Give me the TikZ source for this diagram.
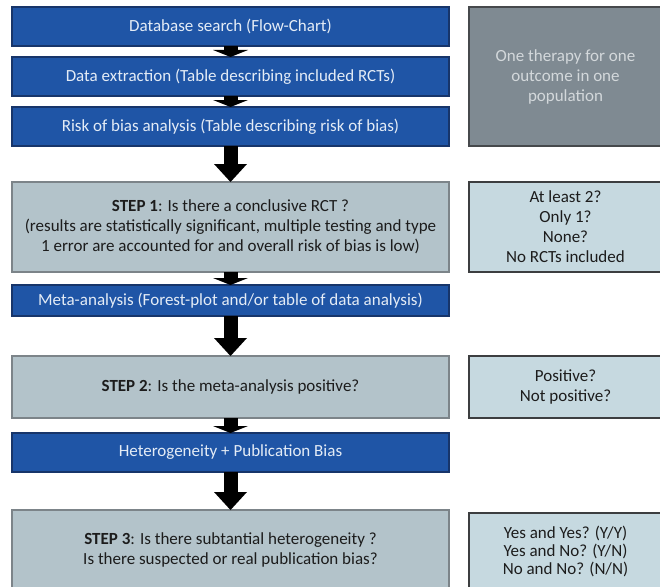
\documentclass[tikz,border=0pt]{standalone}
\usepackage{fontspec}
\setmainfont{Carlito}
\usetikzlibrary{arrows.meta}

\definecolor{stepblue}{HTML}{1F55A6}
\definecolor{stepblueedge}{HTML}{17356A}
\definecolor{stepfill}{HTML}{B3C3CA}
\definecolor{stepedge}{HTML}{7C8489}
\definecolor{answerfill}{HTML}{C6D9E0}
\definecolor{answeredge}{HTML}{3C3E40}
\definecolor{scopefill}{HTML}{7F8A92}
\definecolor{scopeedge}{HTML}{46494C}
\definecolor{scopetext}{HTML}{D3D8DB}
\definecolor{bluetext}{HTML}{E4ECF6}
\definecolor{darktext}{HTML}{1C1C1C}

\tikzset{
  boxbase/.style={rectangle, inner sep=0pt, outer sep=0pt, align=center,
    line width=1.3pt, font=\fontsize{17}{20}\selectfont},
  bluebox/.style={boxbase, fill=stepblue, draw=stepblueedge, text=bluetext,
    minimum width=437pt},
  stepbox/.style={boxbase, fill=stepfill, draw=stepedge, text=darktext,
    minimum width=437pt},
  answerbox/.style={boxbase, fill=answerfill, draw=answeredge, text=darktext,
    minimum width=193pt},
  scopebox/.style={boxbase, fill=scopefill, draw=scopeedge, text=scopetext,
    minimum width=193pt},
  bigarrow/.style={draw=black, line width=14pt,
    -{Triangle[length=18pt, width=33pt, line width=0pt]}},
  smallarrow/.style={draw=black, line width=14pt,
    -{Triangle[length=7pt, width=35pt, line width=0pt]}},
}

\begin{document}
\begin{tikzpicture}[x=1pt, y=-1pt]
  \useasboundingbox (0,0) rectangle (660,586);

  % main column
  \node[bluebox, minimum height=39pt] (db)   at (230.5,26.5)  {Database search (Flow-Chart)};
  \node[bluebox, minimum height=39pt] (ext)  at (230.5,76.5)  {Data extraction (Table describing included RCTs)};
  \node[bluebox, minimum height=39pt] (rob)  at (230.5,126.5) {Risk of bias analysis (Table describing risk of bias)};
  \node[stepbox, minimum height=90pt] (s1)   at (230.5,227)   {\textbf{STEP 1}: Is there a conclusive RCT ?\\
    (results are statistically significant, multiple testing and type\\
    1 error are accounted for and overall risk of bias is low)};
  \node[bluebox, minimum height=31pt] (meta) at (230.5,300.5) {Meta-analysis (Forest-plot and/or table of data analysis)};
  \node[stepbox, minimum height=62pt] (s2)   at (230.5,387)   {\textbf{STEP 2}: Is the meta-analysis positive?};
  \node[bluebox, minimum height=39pt] (het)  at (230.5,452.5) {Heterogeneity + Publication Bias};
  \node[stepbox, minimum height=80pt] (s3)   at (230.5,550)   {\textbf{STEP 3}: Is there subtantial heterogeneity ?\\
    Is there suspected or real publication bias?};

  % side column
  \node[scopebox, minimum height=139pt] (scope) at (565.5,76.5) {One therapy for one\\outcome in one\\population};
  \node[answerbox, minimum height=90pt] (a1) at (565.5,227)   {At least 2?\\Only 1?\\None?\\No RCTs included};
  \node[answerbox, minimum height=62pt] (a2) at (565.5,387)   {Positive?\\Not positive?};
  \node[answerbox, minimum height=77pt, font=\fontsize{17}{18}\selectfont] (a3) at (565.5,551.5) {Yes and Yes? (Y/Y)\\Yes and No? (Y/N)\\No and No? (N/N)};

  % connectors
  \draw[smallarrow] (db.south)   -- (ext.north);
  \draw[smallarrow] (ext.south)  -- (rob.north);
  \draw[bigarrow]   (rob.south)  -- (s1.north);
  \draw[smallarrow] (s1.south)   -- (meta.north);
  \draw[bigarrow]   (meta.south) -- (s2.north);
  \draw[smallarrow] (s2.south)   -- (het.north);
  \draw[bigarrow]   (het.south)  -- (s3.north);
\end{tikzpicture}
\end{document}
